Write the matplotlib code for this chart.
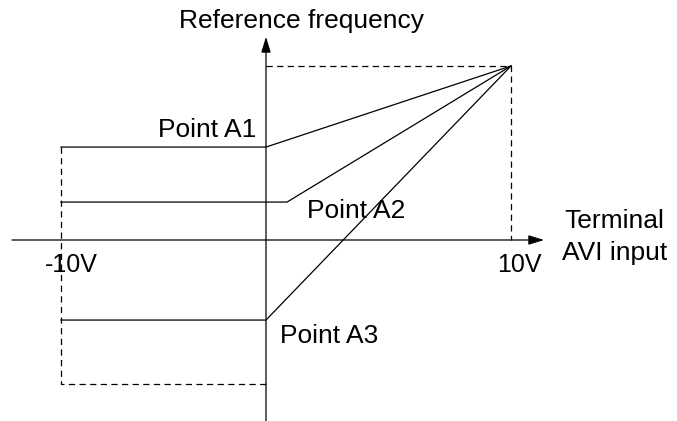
import matplotlib.pyplot as plt

plt.rcParams['font.family'] = ['Liberation Sans', 'DejaVu Sans']

# schematic units (not to scale: -10V is drawn closer to the axis than 10V)
x_neg = -8.37          # drawn position of -10V
x_pos = 10.0           # drawn position of 10V
f_top = 10.0           # frequency at 10V
bias_names = ["Point A1", "Point A2", "Point A3"]
bias_levels = [5.34, 2.18, -4.6]
bias_knees = [0.0, 0.86, 0.0]
f_bottom = -8.28       # lower dashed limit

fig = plt.figure(figsize=(6.77, 4.21), dpi=100)
ax = fig.add_axes([0, 0, 1, 1])
ax.set_xlim(-10.857, 16.776)
ax.set_ylim(-10.40, 13.79)
ax.axis('off')

lw = 0.9
head = dict(arrowstyle='-|>,head_length=0.94,head_width=0.29',
            color='black', lw=lw, shrinkA=0, shrinkB=0)
# axes with arrows
ax.annotate('', xy=(11.35, 0), xytext=(-10.37, 0), arrowprops=head)
ax.annotate('', xy=(0, 11.67), xytext=(0, -10.4), arrowprops=head)

# dashed frame
dash = dict(color='black', lw=lw, ls=(0, (5, 3.5)))
ax.plot([0, x_pos, x_pos], [f_top, f_top, 0], **dash)
ax.plot([x_neg, x_neg, 0], [bias_levels[0], f_bottom, f_bottom], **dash)

# bias curves
for lev, knee in zip(bias_levels, bias_knees):
    ax.plot([x_neg, knee, x_pos], [lev, lev, f_top], color='black', lw=lw)

fs = 19
kw = dict(ha='left', va='baseline', fontsize=fs)
ax.text(-3.55, 12.18, "Reference frequency", **kw)
ax.text(-4.41, 5.94, bias_names[0], **kw)
ax.text(1.67, 1.26, bias_names[1], **kw)
ax.text(0.57, -5.92, bias_names[2], **kw)
ax.text(-9.02, -1.82, "-10V", ha='left', va='baseline', fontsize=18)
ax.text(9.43, -1.82, "10V", ha='left', va='baseline', fontsize=18)
ax.text(12.16, 0.69, "Terminal", **kw)
ax.text(12.08, -1.15, "AVI input", **kw)

fig.savefig('out.png', dpi=100)
